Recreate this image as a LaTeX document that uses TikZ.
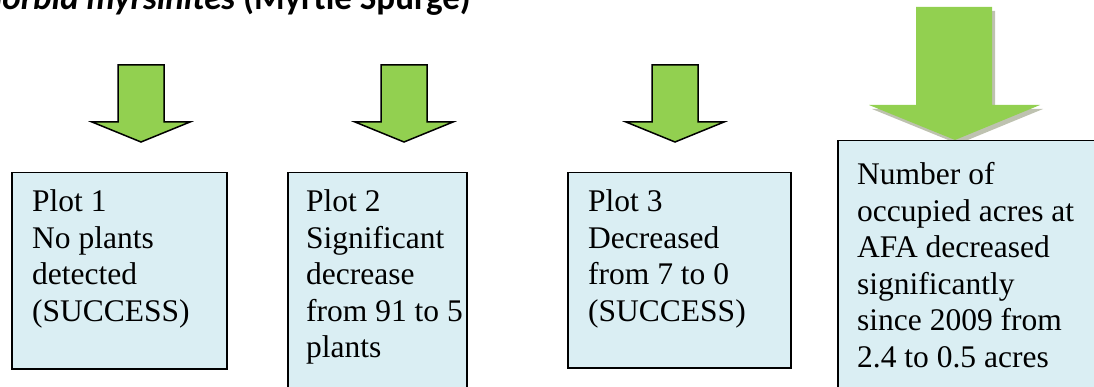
\documentclass[tikz,border=0pt]{standalone}
\usepackage{fontspec}
\setmainfont{Liberation Serif}
\newfontfamily\titlefont{Carlito}
\usetikzlibrary{calc}
\definecolor{arrowgreen}{HTML}{92D050}
\definecolor{boxblue}{HTML}{DAEEF3}
\definecolor{shadowgray}{HTML}{A3A88F}
\begin{document}
\begin{tikzpicture}[x=1pt,y=-1pt,
  boxstyle/.style={draw=black, line width=1.5pt, fill=boxblue, anchor=north west, inner sep=0pt},
  boxtext/.style={anchor=base west, inner sep=0pt, font=\fontsize{31.5}{36.5}\selectfont},
  downarrow/.style={draw=black, line width=1.5pt, fill=arrowgreen, line join=miter},
  bigarrow/.style={fill=arrowgreen},
  arrowshadow/.style={fill=shadowgray, opacity=0.7}]
\useasboundingbox (0,0) rectangle (1094,387);
\clip (0,0) rectangle (1094,387);

% title
\node[anchor=base east, inner sep=0pt, font=\titlefont\fontsize{35}{40}\selectfont\bfseries] (title) at (471,10)
  {\itshape Euphorbia myrsinites\upshape{} (Myrtle Spurge)};

% small arrows
\foreach \cx in {141,404,675}{
  \draw[downarrow] (\cx-23,65) -- (\cx+23,65) -- (\cx+23,122) -- (\cx+49,122)
    -- (\cx,142) -- (\cx-49,122) -- (\cx-23,122) -- cycle;
}
% big arrow with shadow
\fill[arrowshadow] (919,11) -- (995,11) -- (995,109) -- (1043,109) -- (958,144) -- (872,109) -- (919,109) -- cycle;
\fill[bigarrow] (916,7) -- (992,7) -- (992,105) -- (1040,105) -- (955,140) -- (869,105) -- (916,105) -- cycle;

% boxes
\node[boxstyle, minimum width=215pt, minimum height=196pt] (box1) at (11,172) {};
\node[boxstyle, minimum width=179pt, minimum height=240pt] (box2) at (287,172) {};
\node[boxstyle, minimum width=223pt, minimum height=195pt] (box3) at (567,172) {};
\node[boxstyle, minimum width=280pt, minimum height=280pt] (box4) at (837,140) {};

% texts
\node[boxtext] (t1) at ($(box1.north west)+(21,40)$)
  {\begin{tabular}[t]{@{}l@{}}Plot 1\\No plants\\detected\\(SUCCESS)\end{tabular}};
\node[boxtext] (t2) at ($(box2.north west)+(19,40)$)
  {\begin{tabular}[t]{@{}l@{}}Plot 2\\Significant\\decrease\\from 91 to 5\\plants\end{tabular}};
\node[boxtext] (t3) at ($(box3.north west)+(21,40)$)
  {\begin{tabular}[t]{@{}l@{}}Plot 3\\Decreased\\from 7 to 0\\(SUCCESS)\end{tabular}};
\node[boxtext] (t4) at ($(box4.north west)+(20,45)$)
  {\begin{tabular}[t]{@{}l@{}}Number of\\occupied acres at\\AFA decreased\\significantly\\since 2009 from\\2.4 to 0.5 acres\end{tabular}};
\end{tikzpicture}
\end{document}
